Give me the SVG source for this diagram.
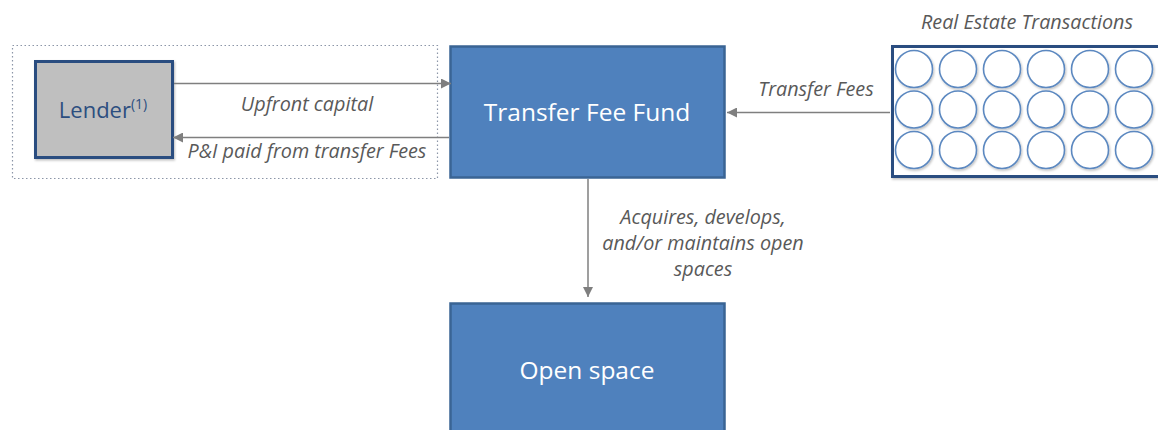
<svg xmlns="http://www.w3.org/2000/svg" width="1158" height="430" viewBox="0 0 1158 430">
<defs>
<marker id="ah" viewBox="0 0 10 10" refX="10" refY="5" markerWidth="10" markerHeight="10" markerUnits="userSpaceOnUse" orient="auto">
<path d="M0,0 L10,5 L0,10 z" fill="#7F7F7F"/>
</marker>
<filter id="sh" x="-20%" y="-20%" width="140%" height="140%">
<feDropShadow dx="1" dy="1.5" stdDeviation="1.2" flood-color="#000" flood-opacity="0.25"/>
</filter>
</defs>
<style>
.blue{fill:#4F81BD;stroke:#3A6494;stroke-width:2.5}
.wt{font-family:"Open Sans","Liberation Sans",sans-serif;fill:#FFFFFF;font-size:24.5px;text-anchor:middle}
.lbl{font-family:"Open Sans","Liberation Sans",sans-serif;fill:#595959;font-size:19.8px;font-style:italic;text-anchor:middle}
.conn{stroke:#7F7F7F;stroke-width:1.5;fill:none;marker-end:url(#ah)}
.c{fill:#FFFFFF;stroke:#5B88C0;stroke-width:1.6}
</style>
<rect width="1158" height="430" fill="#FFFFFF"/>
<rect x="12.5" y="45.5" width="425" height="133" fill="none" stroke="#8C96A8" stroke-width="1.2" stroke-dasharray="1.5,2.5"/>
<g id="lender">
<rect x="35.5" y="61.5" width="137" height="96" fill="#BFBFBF" stroke="#2C4E80" stroke-width="3" filter="url(#sh)"/>
<text x="103" y="118" font-family="'Open Sans','Liberation Sans',sans-serif" font-size="22" fill="#2C4E80" text-anchor="middle">Lender<tspan font-size="14" dy="-9">(1)</tspan></text>
</g>
<g id="fund">
<rect class="blue" x="450.5" y="46.5" width="274" height="131"/>
<text class="wt" x="587" y="121">Transfer Fee Fund</text>
</g>
<g id="openspace">
<rect class="blue" x="450.5" y="303.5" width="274" height="140"/>
<text class="wt" x="587" y="379">Open space</text>
</g>
<g id="transactions">
<text class="lbl" x="1027" y="29">Real Estate Transactions</text>
<rect x="892.5" y="46.5" width="280" height="130" fill="#FFFFFF" stroke="#2C4E80" stroke-width="3" filter="url(#sh)"/>
<g filter="url(#sh)">
<circle class="c" cx="914" cy="69" r="18.5"/><circle class="c" cx="958" cy="69" r="18.5"/><circle class="c" cx="1002" cy="69" r="18.5"/><circle class="c" cx="1046" cy="69" r="18.5"/><circle class="c" cx="1090" cy="69" r="18.5"/><circle class="c" cx="1134" cy="69" r="18.5"/>
<circle class="c" cx="914" cy="109.5" r="18.5"/><circle class="c" cx="958" cy="109.5" r="18.5"/><circle class="c" cx="1002" cy="109.5" r="18.5"/><circle class="c" cx="1046" cy="109.5" r="18.5"/><circle class="c" cx="1090" cy="109.5" r="18.5"/><circle class="c" cx="1134" cy="109.5" r="18.5"/>
<circle class="c" cx="914" cy="150" r="18.5"/><circle class="c" cx="958" cy="150" r="18.5"/><circle class="c" cx="1002" cy="150" r="18.5"/><circle class="c" cx="1046" cy="150" r="18.5"/><circle class="c" cx="1090" cy="150" r="18.5"/><circle class="c" cx="1134" cy="150" r="18.5"/>
</g>
</g>
<g id="connectors">
<line class="conn" x1="174" y1="83.5" x2="451" y2="83.5"/>
<line class="conn" x1="449" y1="137.5" x2="173" y2="137.5"/>
<line class="conn" x1="890" y1="112.5" x2="727" y2="112.5"/>
<line class="conn" x1="588" y1="179" x2="588" y2="297"/>
<text class="lbl" x="307" y="111">Upfront capital</text>
<text class="lbl" x="307" y="158">P&amp;I paid from transfer Fees</text>
<text class="lbl" x="816" y="96">Transfer Fees</text>
<text class="lbl" x="703" y="224">Acquires, develops,</text>
<text class="lbl" x="703" y="250">and/or maintains open</text>
<text class="lbl" x="703" y="276">spaces</text>
</g>
</svg>
